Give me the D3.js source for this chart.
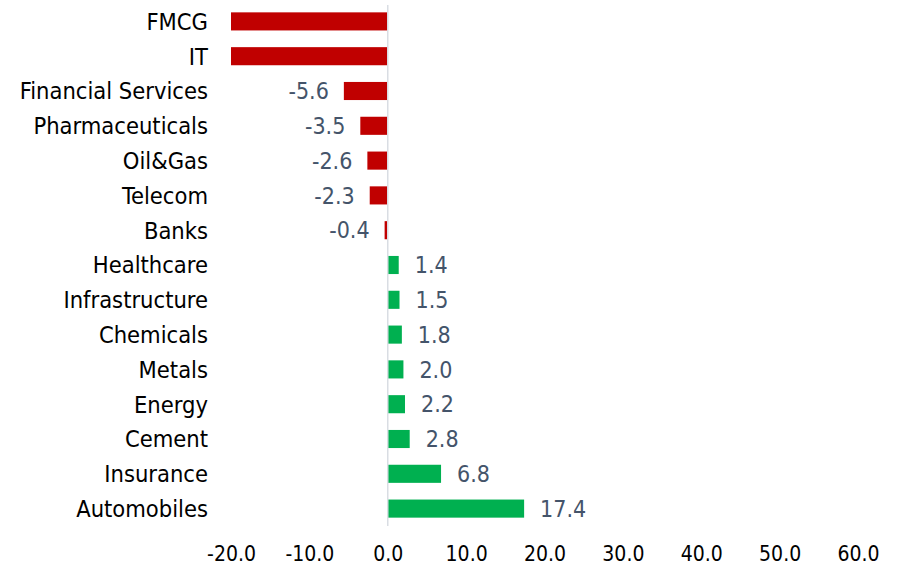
<!DOCTYPE html>
<html>
<head>
<meta charset="utf-8">
<script src="https://cdn.jsdelivr.net/npm/d3@7"></script>
<style>
  body { margin: 0; background: #fff; }
</style>
</head>
<body>
<div id="chart"></div>
<script>
(function () {
    const sectors = ["FMCG", "IT", "Financial Services", "Pharmaceuticals", "Oil&Gas", "Telecom", "Banks",
                     "Healthcare", "Infrastructure", "Chemicals", "Metals", "Energy", "Cement", "Insurance", "Automobiles"];
    // FMCG and IT run past the -20 axis minimum, so they are clipped and unlabelled
    const changes = [-24.0, -22.5, -5.6, -3.5, -2.6, -2.3, -0.4, 1.4, 1.5, 1.8, 2.0, 2.2, 2.8, 6.8, 17.4];
    const xTicks = [-20, -10, 0, 10, 20, 30, 40, 50, 60];

    const W = 904, H = 573;
    const data = sectors.map((s, i) => ({ sector: s, value: changes[i] }));

    const svg = d3.select("#chart")
        .append("svg")
        .attr("width", W)
        .attr("height", H);

    const x = d3.scaleLinear()
        .domain([-20, 60])
        .range([231, 858])
        .clamp(true);

    const y = d3.scaleBand()
        .domain(sectors)
        .range([4, 526])
        .paddingInner(0.48)
        .paddingOuter(0.24);

    const font = "'DejaVu Sans Condensed', 'DejaVu Sans', sans-serif";

    svg.selectAll("rect.bar")
        .data(data)
        .join("rect")
        .attr("class", "bar")
        .attr("x", d => Math.min(x(d.value), x(0)))
        .attr("y", d => y(d.sector))
        .attr("width", d => Math.abs(x(d.value) - x(0)))
        .attr("height", y.bandwidth())
        .attr("fill", d => d.value < 0 ? "#C00000" : "#00B050");

    // zero line
    svg.append("line")
        .attr("x1", x(0)).attr("x2", x(0))
        .attr("y1", 5).attr("y2", 526)
        .attr("stroke", "#D9DDE3")
        .attr("stroke-width", 1.5);

    // category labels
    svg.selectAll("text.cat")
        .data(data)
        .join("text")
        .attr("class", "cat")
        .attr("x", 208)
        .attr("y", d => y(d.sector) + y.bandwidth() / 2)
        .attr("dy", "0.36em")
        .attr("text-anchor", "end")
        .attr("fill", "#000")
        .style("font-family", font)
        .style("font-size", "23.5px")
        .text(d => d.sector);

    // value labels (hidden when the bar is clipped by the axis)
    svg.selectAll("text.val")
        .data(data.filter(d => d.value >= -20 && d.value <= 60))
        .join("text")
        .attr("class", "val")
        .attr("x", d => d.value < 0 ? x(d.value) - 15 : x(d.value) + 16)
        .attr("y", d => y(d.sector) + y.bandwidth() / 2)
        .attr("dy", "0.36em")
        .attr("text-anchor", d => d.value < 0 ? "end" : "start")
        .attr("fill", "#44546A")
        .style("font-family", font)
        .style("font-size", "23px")
        .text(d => d.value.toFixed(1));

    const axis = svg.append("g")
        .attr("transform", "translate(0,553)")
        .call(d3.axisBottom(x).tickValues(xTicks).tickFormat(d => d.toFixed(1)).tickSize(0));
    axis.select(".domain").remove();
    axis.selectAll("text")
        .attr("y", 0)
        .attr("dy", "0.36em")
        .attr("fill", "#000")
        .style("font-family", font)
        .style("font-size", "21px");
})();
</script>
</body>
</html>
